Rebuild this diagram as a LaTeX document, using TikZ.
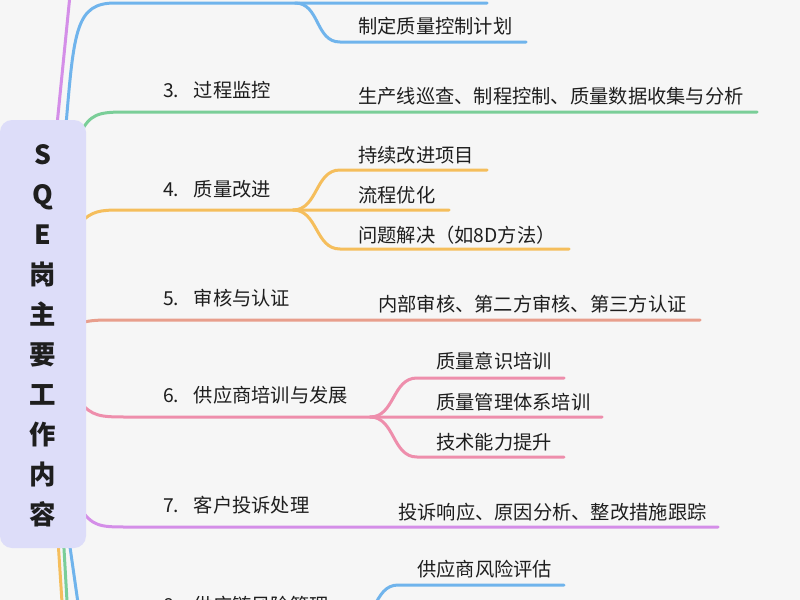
\documentclass[tikz,border=0pt]{standalone}
\usepackage{fontspec}
\setmainfont{Noto Sans CJK SC}
\definecolor{bgc}{RGB}{246,246,246}
\definecolor{rootc}{RGB}{221,221,249}
\definecolor{txtc}{RGB}{30,30,30}
\definecolor{cblue}{RGB}{112,180,236}
\definecolor{cgreen}{RGB}{122,206,152}
\definecolor{corange}{RGB}{245,190,92}
\definecolor{csalmon}{RGB}{232,158,140}
\definecolor{cpink}{RGB}{238,142,172}
\definecolor{cpurple}{RGB}{212,142,232}
\tikzset{
  lbl/.style={anchor=west, inner sep=0pt, text=txtc, font=\fontsize{14.45pt}{17pt}\selectfont},
  br/.style={line width=2.25pt, line cap=round},
  rootbox/.style={fill=rootc, rounded corners=9pt, minimum width=64.5pt, minimum height=321pt,
    inner sep=0pt},
  roottext/.style={inner sep=0pt, align=center, text=txtc, font=\fontsize{19.8pt}{30pt}\selectfont\bfseries}
}
\begin{document}
\begin{tikzpicture}[x=0.75pt,y=-0.75pt]
\useasboundingbox (0,0) rectangle (800,600);
\fill[bgc] (0,0) rectangle (800,600);
\clip (0,0) rectangle (800,600);

% branch points
\coordinate (b2) at (295,3);
\coordinate (b4) at (293,210);
\coordinate (b6) at (370,417);
\coordinate (b8) at (351,626);

% top lines
\draw[br,cpurple] (57,125) -- (70,-5);
\draw[br,cblue] (66,125) .. controls (74,30) and (76,3) .. (115,3) -- (b2) -- (487,3);
\draw[br,cblue] (b2) .. controls (320,3) and (315,42) .. (340,42) -- (526,42);

% 3
\draw[br,cgreen] (80,134) .. controls (90,114) and (98,112) .. (125,112) -- (757,112);

% 4
\draw[br,corange] (80,223) .. controls (92,211) and (100,210) .. (120,210) -- (b4) -- (449,210);
\draw[br,corange] (b4) .. controls (318,210) and (315,170) .. (340,170) -- (487,170);
\draw[br,corange] (b4) .. controls (318,210) and (315,249) .. (340,249) -- (569,249);

% 5
\draw[br,csalmon] (80,323) .. controls (92,320) and (98,320) .. (115,320) -- (700,320);

% 6
\draw[br,cpink] (80,402) .. controls (92,416) and (100,417) .. (125,417) -- (b6) -- (602,417);
\draw[br,cpink] (b6) .. controls (395,417) and (392,378) .. (417,378) -- (564,378);
\draw[br,cpink] (b6) .. controls (395,417) and (392,457) .. (417,457) -- (564,457);

% 7
\draw[br,cpurple] (80,508) .. controls (92,526) and (100,527) .. (125,527) -- (718,527);

% bottom lines
\draw[br,corange] (58,540) -- (62.5,610);
\draw[br,cgreen] (63.5,540) -- (67.5,610);
\draw[br,cblue] (69,540) -- (79,610);

% 8
\draw[br,cblue] (b8) .. controls (376,626) and (373,585) .. (398,585) -- (564,585);

% root
\node[rootbox] (root) at (43,334) {};
\node[roottext] (rootlbl) at (42.5,336) {S\\Q\\E\\岗\\主\\要\\工\\作\\内\\容};

% texts
\node[lbl] (c2) at (358,26) {制定质量控制计划};
\node[lbl] (l3) at (163,90) {3.\hspace{0.75em}过程监控};
\node[lbl] (c3) at (358,96) {生产线巡查、制程控制、质量数据收集与分析};
\node[lbl] (l4) at (163,189) {4.\hspace{0.75em}质量改进};
\node[lbl] (c41) at (358,155) {持续改进项目};
\node[lbl] (c42) at (358,195) {流程优化};
\node[lbl] (c43) at (358,235) {问题解决（如8D方法）};
\node[lbl] (l5) at (163,298) {5.\hspace{0.75em}审核与认证};
\node[lbl] (c5) at (378,304) {内部审核、第二方审核、第三方认证};
\node[lbl] (l6) at (163,395) {6.\hspace{0.75em}供应商培训与发展};
\node[lbl] (c61) at (436,361) {质量意识培训};
\node[lbl] (c62) at (436,402) {质量管理体系培训};
\node[lbl] (c63) at (436,442) {技术能力提升};
\node[lbl] (l7) at (163,505) {7.\hspace{0.75em}客户投诉处理};
\node[lbl] (c7) at (398,512) {投诉响应、原因分析、整改措施跟踪};
\node[lbl] (c81) at (417,569) {供应商风险评估};
\node[lbl] (l8) at (163,605) {8.\hspace{0.75em}供应链风险管理};
\end{tikzpicture}
\end{document}
